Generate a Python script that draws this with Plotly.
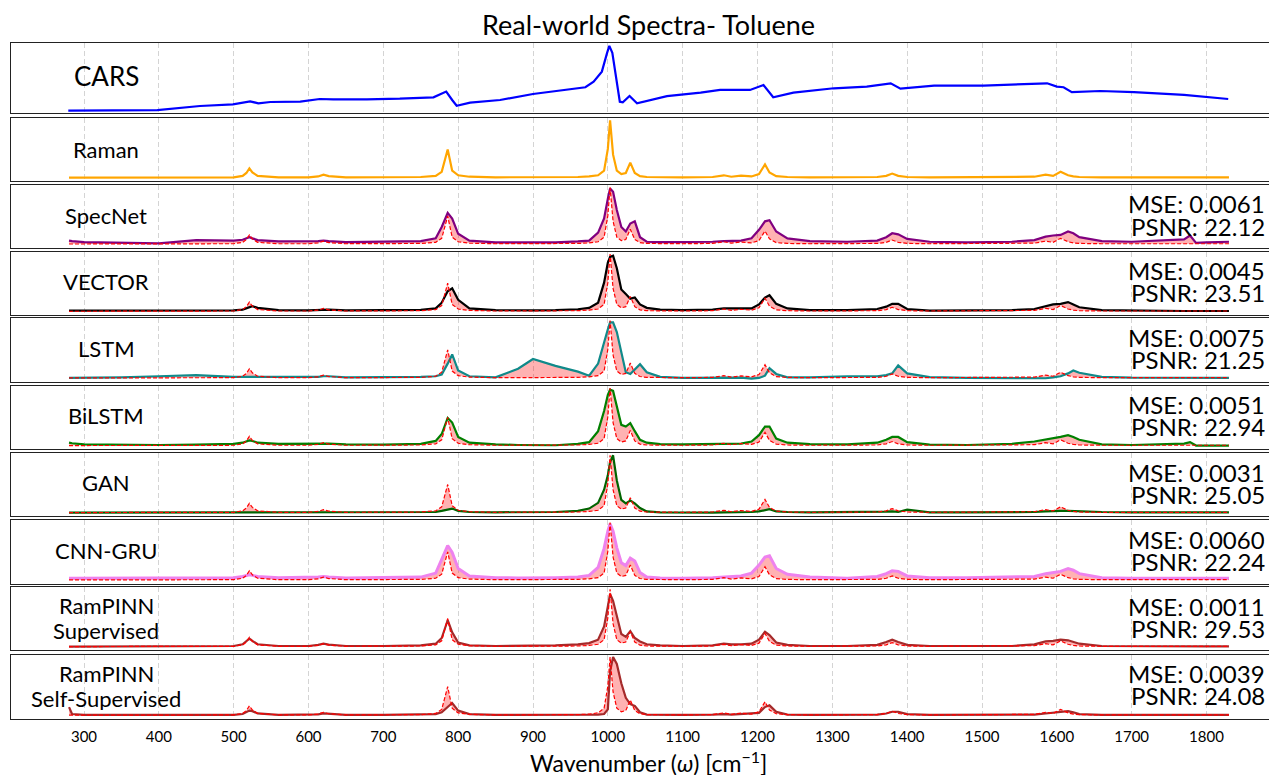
import plotly.graph_objects as go

# ---------------- data ----------------
wavenumber = [280, 284, 300, 350, 400, 450, 500,
              512, 517, 521, 525, 532,
              560, 600, 613, 620, 627, 650,
              700, 750, 770, 778, 786, 792, 800, 815,
              850, 880, 900, 930, 960, 975, 987, 995,
              1000, 1003, 1007, 1012, 1018, 1024, 1030, 1036, 1043, 1052,
              1070, 1100, 1140, 1155, 1165, 1178, 1192, 1202, 1210, 1216,
              1225, 1240, 1270, 1320, 1360, 1372, 1380, 1388, 1400, 1430,
              1480, 1540, 1570, 1585, 1595, 1605, 1615, 1622, 1630, 1660,
              1700, 1750, 1770, 1778, 1786, 1800, 1830]

raman = [0.0, 0.0, 0.0, 0.005, 0.0, 0.0, 0.005,
         0.03, 0.08, 0.16, 0.09, 0.03,
         0.005, 0.005, 0.02, 0.05, 0.025, 0.005,
         0.005, 0.01, 0.03, 0.1, 0.49, 0.12, 0.04, 0.015,
         0.005, 0.005, 0.005, 0.005, 0.01, 0.02, 0.04, 0.12,
         0.5, 1.0, 0.4, 0.12, 0.06, 0.08, 0.26, 0.08, 0.025, 0.01,
         0.005, 0.005, 0.01, 0.04, 0.015, 0.035, 0.02, 0.06, 0.23, 0.09,
         0.025, 0.01, 0.005, 0.005, 0.01, 0.03, 0.07, 0.03, 0.01, 0.005,
         0.005, 0.005, 0.015, 0.05, 0.03, 0.1, 0.04, 0.02, 0.01, 0.005,
         0.005, 0.005, 0.005, 0.005, 0.005, 0.005, 0.005]

cars_wn = [279, 392, 398, 455, 499, 522, 533, 549, 589, 615, 633, 678, 722,
           767, 784, 792, 798, 816, 856, 900, 963, 970, 981, 992, 999, 1002,
           1006, 1011, 1016, 1020, 1029, 1039, 1079, 1124, 1150, 1190, 1208,
           1221, 1248, 1302, 1346, 1378, 1391, 1436, 1502, 1587, 1600, 1609,
           1620, 1658, 1703, 1770, 1829]
cars = [0.0, 0.0, 0.01, 0.073, 0.099, 0.145, 0.114, 0.134, 0.139, 0.181, 0.176,
        0.176, 0.185, 0.207, 0.295, 0.165, 0.077, 0.124, 0.165, 0.258, 0.362,
        0.362, 0.448, 0.603, 0.892, 1.0, 0.892, 0.474, 0.139, 0.130, 0.226,
        0.114, 0.226, 0.278, 0.320, 0.320, 0.397, 0.207, 0.278, 0.346, 0.371,
        0.423, 0.340, 0.386, 0.386, 0.423, 0.371, 0.362, 0.286, 0.304, 0.286,
        0.244, 0.181]

specnet = [0.06, 0.05, 0.035, 0.025, 0.01, 0.07, 0.06,
           0.075, 0.1, 0.12, 0.1, 0.07,
           0.045, 0.04, 0.05, 0.06, 0.05, 0.035,
           0.04, 0.05, 0.1, 0.3, 0.55, 0.45, 0.18, 0.06,
           0.03, 0.03, 0.02, 0.03, 0.045, 0.06, 0.2, 0.45,
           0.8, 0.98, 0.92, 0.6, 0.3, 0.22, 0.36, 0.4, 0.12, 0.04,
           0.035, 0.035, 0.04, 0.05, 0.05, 0.06, 0.1, 0.25, 0.4, 0.42,
           0.22, 0.1, 0.05, 0.04, 0.06, 0.12, 0.19, 0.17, 0.09, 0.04,
           0.03, 0.04, 0.07, 0.13, 0.15, 0.16, 0.22, 0.19, 0.12, 0.05,
           0.04, 0.06, 0.08, 0.15, 0.02, 0.03, 0.04]

vector = [0.01, 0.01, 0.01, 0.01, 0.01, 0.01, 0.015,
          0.03, 0.05, 0.07, 0.09, 0.06,
          0.02, 0.015, 0.02, 0.035, 0.03, 0.015,
          0.015, 0.025, 0.05, 0.15, 0.35, 0.4, 0.2, 0.05,
          0.02, 0.015, 0.015, 0.02, 0.035, 0.06, 0.15, 0.5,
          0.85, 0.95, 0.97, 0.75, 0.38, 0.3, 0.22, 0.24, 0.12, 0.06,
          0.03, 0.02, 0.03, 0.05, 0.05, 0.04, 0.05, 0.12, 0.24, 0.28,
          0.13, 0.05, 0.02, 0.02, 0.04, 0.08, 0.13, 0.13, 0.04, 0.01,
          0.01, 0.02, 0.04, 0.08, 0.12, 0.13, 0.16, 0.12, 0.07, 0.02,
          0.01, 0.005, 0.005, 0.005, 0.005, 0.005, 0.005]

lstm = [0.0, 0.0, 0.005, 0.01, 0.03, 0.05, 0.02,
        0.02, 0.02, 0.02, 0.02, 0.02,
        0.01, 0.01, 0.02, 0.03, 0.03, 0.01,
        0.01, 0.02, 0.03, 0.06, 0.25, 0.41, 0.13, 0.03,
        0.01, 0.16, 0.33, 0.21, 0.11, 0.04, 0.25, 0.65,
        0.85, 0.97, 0.97, 0.8, 0.42, 0.1, 0.07, 0.15, 0.24, 0.1,
        0.02, 0.0, 0.0, 0.005, 0.005, 0.005, -0.01, 0.0, 0.04, 0.17,
        0.07, 0.01, 0.01, 0.03, 0.03, 0.05, 0.08, 0.22, 0.08, 0.015,
        0.0, -0.005, -0.01, -0.005, 0.01, 0.03, 0.08, 0.13, 0.09, 0.02,
        0.005, 0.0, 0.0, 0.0, 0.0, 0.0, 0.0]

bilstm = [0.05, 0.04, 0.02, 0.01, 0.01, 0.015, 0.03,
          0.05, 0.07, 0.09, 0.08, 0.05,
          0.03, 0.03, 0.035, 0.04, 0.035, 0.02,
          0.015, 0.03, 0.08, 0.2, 0.48, 0.4, 0.15, 0.05,
          0.02, 0.01, 0.005, 0.005, 0.03, 0.06, 0.25, 0.6,
          0.88, 0.97, 0.95, 0.68, 0.36, 0.33, 0.39, 0.25, 0.1, 0.05,
          0.025, 0.02, 0.025, 0.03, 0.03, 0.035, 0.07, 0.18, 0.33, 0.33,
          0.12, 0.05, 0.025, 0.02, 0.05, 0.1, 0.15, 0.15, 0.06, 0.015,
          0.01, 0.03, 0.07, 0.1, 0.12, 0.15, 0.18, 0.15, 0.1, 0.02,
          0.01, 0.025, 0.035, 0.06, 0.0, 0.0, 0.0]

gan = [0.0, 0.0, 0.0, 0.0, 0.0, 0.0, 0.0,
       0.0, 0.0, 0.005, 0.005, 0.0,
       0.0, 0.0, 0.0, 0.005, 0.005, 0.0,
       0.0, 0.005, 0.01, 0.03, 0.06, 0.07, 0.03, 0.01,
       0.005, 0.005, 0.005, 0.01, 0.03, 0.07, 0.17, 0.4,
       0.65, 0.88, 1.0, 0.56, 0.22, 0.16, 0.21, 0.16, 0.08, 0.02,
       0.005, 0.0, 0.0, 0.005, 0.005, 0.005, 0.01, 0.02, 0.05, 0.06,
       0.02, 0.01, 0.005, 0.005, 0.01, 0.015, 0.02, 0.01, 0.05, 0.005,
       0.005, 0.005, 0.01, 0.02, 0.03, 0.03, 0.03, 0.025, 0.02, 0.01,
       0.005, 0.005, 0.005, 0.005, 0.005, 0.005, 0.005]

cnn_gru = [0.03, 0.03, 0.03, 0.03, 0.03, 0.035, 0.04,
           0.06, 0.08, 0.09, 0.08, 0.06,
           0.04, 0.04, 0.05, 0.06, 0.05, 0.035,
           0.04, 0.05, 0.12, 0.35, 0.6, 0.48, 0.2, 0.07,
           0.04, 0.035, 0.035, 0.04, 0.05, 0.08, 0.22, 0.55,
           0.85, 0.98, 0.85, 0.56, 0.3, 0.25, 0.38, 0.33, 0.13, 0.05,
           0.035, 0.03, 0.04, 0.05, 0.06, 0.07, 0.12, 0.26, 0.4, 0.42,
           0.2, 0.1, 0.05, 0.03, 0.06, 0.11, 0.16, 0.15, 0.07, 0.04,
           0.04, 0.045, 0.06, 0.11, 0.13, 0.15, 0.2, 0.17, 0.11, 0.04,
           0.03, 0.03, 0.03, 0.03, 0.03, 0.03, 0.03]

rampinn_sup = [0.0, 0.0, 0.0, 0.005, 0.005, 0.005, 0.01,
               0.04, 0.09, 0.14, 0.1, 0.04,
               0.01, 0.01, 0.03, 0.05, 0.035, 0.01,
               0.01, 0.02, 0.05, 0.15, 0.46, 0.25, 0.07, 0.02,
               0.01, 0.01, 0.01, 0.02, 0.04, 0.06, 0.12, 0.35,
               0.7, 0.92, 0.8, 0.55, 0.22, 0.17, 0.27, 0.15, 0.09, 0.04,
               0.02, 0.01, 0.02, 0.05, 0.04, 0.04, 0.05, 0.12, 0.26, 0.2,
               0.07, 0.03, 0.01, 0.01, 0.03, 0.08, 0.12, 0.08, 0.03, 0.01,
               0.005, 0.01, 0.04, 0.09, 0.1, 0.12, 0.11, 0.08, 0.05, 0.01,
               0.005, 0.005, 0.005, 0.005, 0.005, 0.005, 0.005]

rampinn_self = [0.14, 0.02, 0.005, 0.005, 0.005, 0.005, 0.005,
                0.02, 0.05, 0.08, 0.07, 0.03,
                0.005, 0.005, 0.015, 0.03, 0.025, 0.005,
                0.005, 0.01, 0.02, 0.05, 0.15, 0.21, 0.08, 0.02,
                0.005, 0.005, 0.005, 0.005, 0.005, 0.01, 0.01, 0.02,
                0.1, 0.75, 1.0, 0.88, 0.55, 0.3, 0.19, 0.16, 0.05, 0.01,
                0.005, 0.005, 0.01, 0.02, 0.01, 0.02, 0.02, 0.04, 0.14, 0.17,
                0.06, 0.01, 0.005, 0.005, 0.01, 0.03, 0.06, 0.06, 0.02, 0.005,
                0.005, 0.005, 0.01, 0.03, 0.04, 0.05, 0.07, 0.05, 0.02, 0.005,
                0.005, 0.005, 0.005, 0.005, 0.005, 0.005, 0.005]

model_names = ["SpecNet", "VECTOR", "LSTM", "BiLSTM", "GAN", "CNN-GRU",
               "RamPINN\nSupervised", "RamPINN\nSelf-Supervised"]
model_preds = [specnet, vector, lstm, bilstm, gan, cnn_gru, rampinn_sup, rampinn_self]
mse_values = ["0.0061", "0.0045", "0.0075", "0.0051", "0.0031", "0.0060", "0.0011", "0.0039"]
psnr_values = ["22.12", "23.51", "21.25", "22.94", "25.05", "22.24", "29.53", "24.08"]
x_ticks = [300, 400, 500, 600, 700, 800, 900, 1000, 1100, 1200, 1300, 1400, 1500, 1600, 1700, 1800]

for arr in [raman] + model_preds:
    if len(arr) != len(wavenumber):
        raise ValueError("length mismatch %d vs %d" % (len(arr), len(wavenumber)))

# ---------------- styling ----------------
model_colors = ["#800080", "#000000", "#108a8a", "#008000", "#006400", "#EE82EE", "#A52A2A", "#A52A2A"]
model_widths = [2.2, 2.2, 2.2, 2.2, 2.2, 3.0, 2.2, 2.2]
FONT = "Lato"
PAGE_OFF = 8            # default page margin of the html body
W, H = 1277 - PAGE_OFF, 778 - PAGE_OFF
ML = 11 - PAGE_OFF
PW = W - ML
# panel (top, bottom) in page pixels
panel_px = [(43.3, 113.3), (118, 181.3), (185, 247.7), (251.7, 315), (318.3, 381.7),
            (385.7, 449.3), (453, 516.3), (520.3, 583.7), (587, 650.3), (654.7, 719)]
XR = [202.45, 1894.2]

fig = go.Figure()
layout = dict(width=W, height=H, margin=dict(l=ML, r=0, t=0, b=0),
              plot_bgcolor="white", paper_bgcolor="white", showlegend=False,
              font=dict(family=FONT, color="black"))
annotations = []

def ypaper(px):
    return (H - (px - PAGE_OFF)) / H

def xpaper(px):
    return (px - PAGE_OFF - ML) / PW

for k in range(1, 11):
    xa = "x" if k == 1 else "x%d" % k
    ya = "y" if k == 1 else "y%d" % k
    top, bot = panel_px[k - 1]
    yr = [-0.04, 1.04] if k == 1 else [-0.065, 1.04]
    layout["xaxis" if k == 1 else "xaxis%d" % k] = dict(
        domain=[0, 1], anchor=ya, range=XR, showline=True, mirror=True,
        linecolor="#222", linewidth=1.3, showgrid=True, gridcolor="#d4d4d4",
        griddash="5px,3px", gridwidth=1, zeroline=False,
        tickvals=x_ticks, showticklabels=(k == 10), ticks="outside" if k == 10 else "",
        ticklen=4, tickcolor="rgba(0,0,0,0)", tickfont=dict(size=15, family=FONT),
        automargin=False)
    layout["yaxis" if k == 1 else "yaxis%d" % k] = dict(
        domain=[ypaper(bot), ypaper(top)], anchor=xa, range=yr, showline=True,
        mirror=True, linecolor="#222", linewidth=1.3, showgrid=False,
        zeroline=False, showticklabels=False, ticks="", automargin=False)

# CARS and Raman panels
fig.add_trace(go.Scatter(x=cars_wn, y=cars, mode="lines", line=dict(color="#0000FF", width=2.2),
                         xaxis="x", yaxis="y", hoverinfo="skip"))
fig.add_trace(go.Scatter(x=wavenumber, y=raman, mode="lines", line=dict(color="#FFA500", width=2.2),
                         xaxis="x2", yaxis="y2", hoverinfo="skip"))

for i, pred in enumerate(model_preds):
    k = i + 3
    xa, ya = "x%d" % k, "y%d" % k
    fig.add_trace(go.Scatter(x=wavenumber, y=raman, mode="lines", line=dict(width=0, color="rgba(0,0,0,0)"),
                             xaxis=xa, yaxis=ya, hoverinfo="skip"))
    fig.add_trace(go.Scatter(x=wavenumber, y=pred, mode="lines", fill="tonexty",
                             fillcolor="rgba(255,0,0,0.3)", line=dict(width=0, color="rgba(0,0,0,0)"),
                             xaxis=xa, yaxis=ya, hoverinfo="skip"))
    fig.add_trace(go.Scatter(x=wavenumber, y=pred, mode="lines",
                             line=dict(color=model_colors[i], width=model_widths[i]),
                             xaxis=xa, yaxis=ya, hoverinfo="skip"))
    fig.add_trace(go.Scatter(x=wavenumber, y=raman, mode="lines",
                             line=dict(color="#FF0000", width=1.2, dash="4px,2px"),
                             xaxis=xa, yaxis=ya, hoverinfo="skip"))

LX = xpaper(106)
RX = xpaper(1266)

def add_text(text, xp, ypx, size, anchor="center", box_h=None):
    ann = dict(text=text, x=xp, y=ypaper(ypx), xref="paper", yref="paper",
               xanchor=anchor, yanchor="middle", showarrow=False,
               font=dict(size=size, family=FONT, color="black"))
    if box_h is not None:
        ann["height"] = box_h
        ann["borderpad"] = 0
    annotations.append(ann)

add_text("CARS", LX, panel_px[0][0] + 33, 26)
add_text("Raman", LX, panel_px[1][0] + 31, 22)
for i, name in enumerate(model_names):
    top = panel_px[i + 2][0]
    lines = name.split("\n")
    if len(lines) == 1:
        add_text(name, LX, top + 30, 22)
    else:
        add_text(lines[0], LX, top + 18, 22, box_h=24)
        add_text(lines[1], LX, top + 43, 22, box_h=24)
    add_text("MSE: " + mse_values[i], RX, top + 19, 24, "right", box_h=21)
    add_text("PSNR: " + psnr_values[i], RX, top + 41, 24, "right", box_h=21)

add_text("Real-world Spectra- Toluene", xpaper(648), 25, 27)
add_text("Wavenumber (<i>ω</i>) [cm<sup>−1</sup>]", xpaper(648), 762, 23, box_h=26)

layout["annotations"] = annotations
fig.update_layout(**layout)
fig.write_html("out.html")
